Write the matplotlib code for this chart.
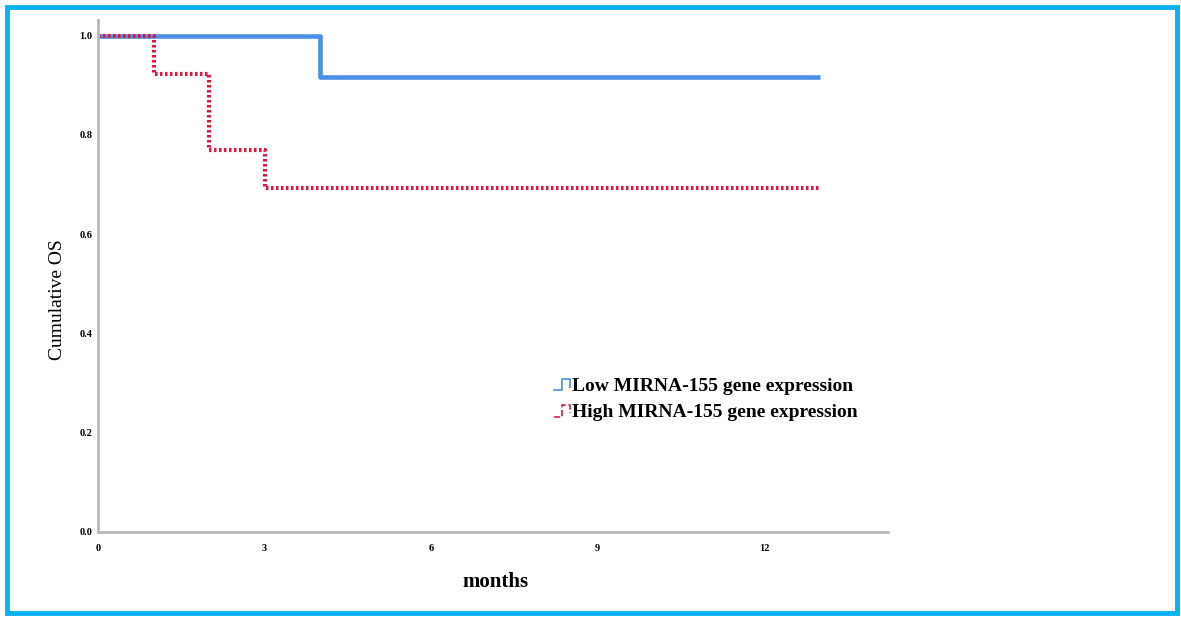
import matplotlib
matplotlib.use("Agg")
import matplotlib.pyplot as plt
from matplotlib.patches import Rectangle
from matplotlib.legend_handler import HandlerLine2D
from matplotlib.lines import Line2D

# Data (Kaplan-Meier step curves)
low_times = [0, 4, 13]
low_surv = [1.0, 0.917, 0.917]
high_times = [0, 1, 2, 3, 13]
high_surv = [1.0, 0.923, 0.769, 0.692, 0.692]
x_ticks = [0, 3, 6, 9, 12]
y_ticks = [0.0, 0.2, 0.4, 0.6, 0.8, 1.0]
labels = ["Low MIRNA-155 gene expression", "High MIRNA-155 gene expression"]

blue = "#4A8FE3"
red = "#E0163F"

plt.rcParams['font.family'] = ['Liberation Serif', 'DejaVu Serif']

fig = plt.figure(figsize=(11.81, 6.17), dpi=100)
fig.patches.append(Rectangle((0.006, 0.006), 0.991, 0.982, transform=fig.transFigure,
                             fill=False, edgecolor="#0AB0EC", linewidth=3.5))

ax = fig.add_axes([0.083, 0.138, 0.669, 0.830])
ax.step(low_times, low_surv, where='post', color=blue, linewidth=3.3, solid_capstyle='butt', label=labels[0])
ax.step(high_times, high_surv, where='post', color=red, linewidth=3, linestyle=(0, (0.6, 0.6)),
        label=labels[1])

ax.set_xlim(0, 14.23)
ax.set_ylim(0, 1.032)
ax.set_xticks(x_ticks)
ax.set_xticklabels([str(t) for t in x_ticks], fontsize=7.5, fontweight='bold')
ax.set_yticks(y_ticks)
ax.set_yticklabels([f"{t:.1f}" for t in y_ticks], fontsize=7.5, fontweight='bold')
ax.tick_params(axis='y', length=0, pad=4)
ax.tick_params(axis='x', length=0, pad=9)
for s in ['top', 'right']:
    ax.spines[s].set_visible(False)
for s in ['left', 'bottom']:
    ax.spines[s].set_color('#b8b8b8')
    ax.spines[s].set_linewidth(2)

ax.set_xlabel("months", fontsize=15, fontweight='bold')
ax.xaxis.set_label_coords(0.503, -0.078)
ax.set_ylabel("Cumulative OS", fontsize=14)
ax.yaxis.set_label_coords(-0.04, 0.453)


class StepHandler(HandlerLine2D):
    def create_artists(self, legend, orig_handle, xdescent, ydescent, width, height, fontsize, trans):
        w = width
        h = height
        xs = [-xdescent, -xdescent + w * 0.5, -xdescent + w * 0.5, -xdescent + w, -xdescent + w]
        ys = [-ydescent + h * 0.05, -ydescent + h * 0.05, -ydescent + h * 0.9, -ydescent + h * 0.9, -ydescent + h * 0.3]
        ln = Line2D(xs, ys, color=orig_handle.get_color(), linewidth=1.2,
                    linestyle=orig_handle.get_linestyle())
        ln.set_transform(trans)
        return [ln]


handles, labs = ax.get_legend_handles_labels()
leg = ax.legend(handles, labs, loc='upper left', bbox_to_anchor=(0.555, 0.336), frameon=False,
                prop={'size': 14, 'weight': 'bold'}, handlelength=0.8, handletextpad=0.1,
                labelspacing=0.45, handler_map={Line2D: StepHandler()})

fig.savefig("out.png", dpi=100)
